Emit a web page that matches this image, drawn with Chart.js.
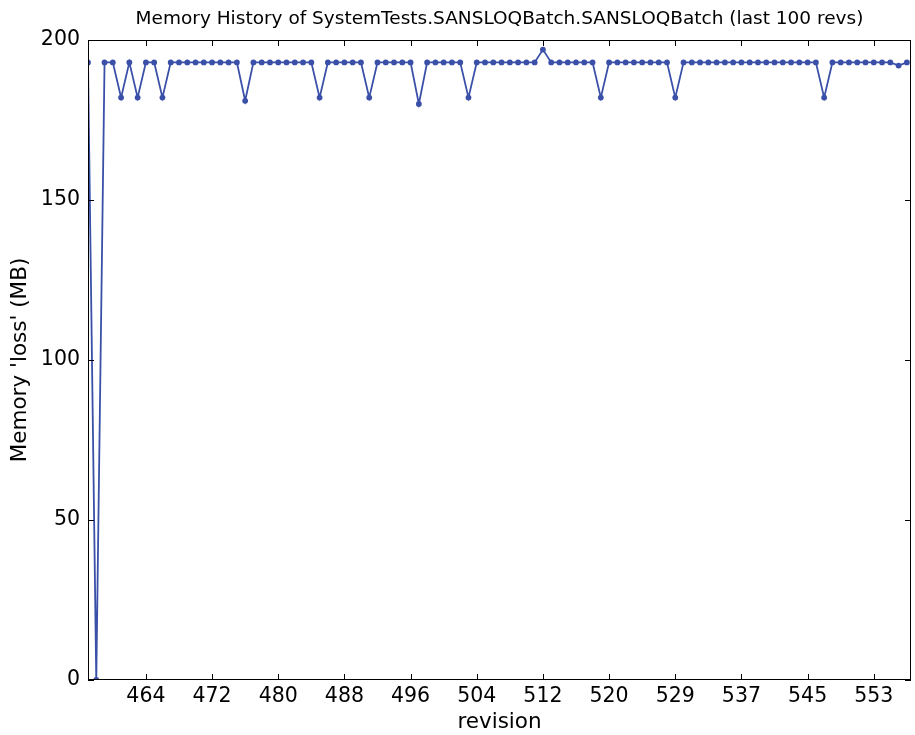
<!DOCTYPE html>
<html>
<head>
<meta charset="utf-8">
<script src="https://cdn.jsdelivr.net/npm/chart.js@4/dist/chart.umd.min.js"></script>
<style>
  body { margin: 0; background: #fff; }
  canvas { display: block; }
</style>
</head>
<body>
<canvas id="memchart" width="915" height="735"></canvas>
<script>
// memory 'loss' for the last 100 revisions, in MB
const memLoss = [
  193, 0, 193, 193, 182, 193, 182, 193, 193, 182,
  193, 193, 193, 193, 193, 193, 193, 193, 193, 181,
  193, 193, 193, 193, 193, 193, 193, 193, 182, 193,
  193, 193, 193, 193, 182, 193, 193, 193, 193, 193,
  180, 193, 193, 193, 193, 193, 182, 193, 193, 193,
  193, 193, 193, 193, 193, 197, 193, 193, 193, 193,
  193, 193, 182, 193, 193, 193, 193, 193, 193, 193,
  193, 182, 193, 193, 193, 193, 193, 193, 193, 193,
  193, 193, 193, 193, 193, 193, 193, 193, 193, 182,
  193, 193, 193, 193, 193, 193, 193, 193, 192, 193
];
// positions (point index) of the labelled ticks and their revision numbers
const tickIndex = [7, 15, 23, 31, 39, 47, 55, 63, 71, 79, 87, 95];
const tickRevs = ["464", "472", "480", "488", "496", "504", "512", "520", "529", "537", "545", "553"];
const yTicks = [0, 50, 100, 150, 200];
const TITLE = "Memory History of SystemTests.SANSLOQBatch.SANSLOQBatch (last 100 revs)";

Chart.defaults.font.family = "'DejaVu Sans', sans-serif";
Chart.defaults.color = "#000";

const LINE = "rgb(58, 80, 168)";

// matplotlib style frame with inward ticks on all four sides,
// plus the title centred over the plot area
const framePlugin = {
  id: "frame",
  afterDraw(chart) {
    const { ctx, chartArea: a, scales } = chart;
    ctx.save();
    ctx.strokeStyle = "#000";
    ctx.lineWidth = 1;
    ctx.strokeRect(a.left + 0.5, a.top + 0.5, a.right - a.left - 1, a.bottom - a.top - 1);
    ctx.beginPath();
    const tl = 6;
    tickIndex.forEach(i => {
      const x = Math.round(scales.x.getPixelForValue(i)) + 0.5;
      ctx.moveTo(x, a.bottom); ctx.lineTo(x, a.bottom - tl);
      ctx.moveTo(x, a.top); ctx.lineTo(x, a.top + tl);
    });
    yTicks.forEach(v => {
      const y = Math.round(scales.y.getPixelForValue(v)) + 0.5;
      ctx.moveTo(a.left, y); ctx.lineTo(a.left + tl, y);
      ctx.moveTo(a.right, y); ctx.lineTo(a.right - tl, y);
    });
    ctx.stroke();

    ctx.fillStyle = "#000";
    ctx.font = "18.5px 'DejaVu Sans', sans-serif";
    ctx.textAlign = "center";
    ctx.textBaseline = "middle";
    ctx.fillText(TITLE, (a.left + a.right) / 2, 19);
    ctx.restore();
  }
};

new Chart(document.getElementById("memchart"), {
  type: "line",
  data: {
    datasets: [{
      data: memLoss.map((v, i) => ({ x: i, y: v })),
      borderColor: LINE,
      backgroundColor: LINE,
      borderWidth: 1.8,
      pointRadius: 2.9,
      pointBorderWidth: 0,
      tension: 0,
      fill: false
    }]
  },
  options: {
    responsive: false,
    animation: false,
    devicePixelRatio: 1,
    layout: { padding: { left: 0, right: 2, top: 40, bottom: 0 } },
    plugins: {
      legend: { display: false },
      tooltip: { enabled: false },
      title: { display: false }
    },
    scales: {
      x: {
        type: "linear",
        min: 0,
        max: 99.5,
        afterBuildTicks: s => { s.ticks = tickIndex.map(v => ({ value: v })); },
        afterFit: s => { s.height = 55; },
        grid: { display: false, drawTicks: false },
        border: { display: false },
        ticks: {
          font: { size: 20.5 },
          color: "#000",
          padding: 4,
          maxRotation: 0,
          autoSkip: false,
          callback: v => tickRevs[tickIndex.indexOf(v)]
        },
        title: {
          display: true,
          text: "revision",
          font: { size: 21.5 },
          color: "#000",
          padding: { top: 0, bottom: 0 }
        }
      },
      y: {
        min: 0,
        max: 200,
        afterBuildTicks: s => { s.ticks = yTicks.map(v => ({ value: v })); },
        afterFit: s => { s.width = 88; },
        grid: { display: false, drawTicks: false },
        border: { display: false },
        ticks: {
          font: { size: 20.5 },
          color: "#000",
          padding: 8
        },
        title: {
          display: true,
          text: "Memory 'loss' (MB)",
          font: { size: 21.5 },
          color: "#000",
          padding: { top: 8, bottom: 0 }
        }
      }
    }
  },
  plugins: [framePlugin]
});
</script>
</body>
</html>
